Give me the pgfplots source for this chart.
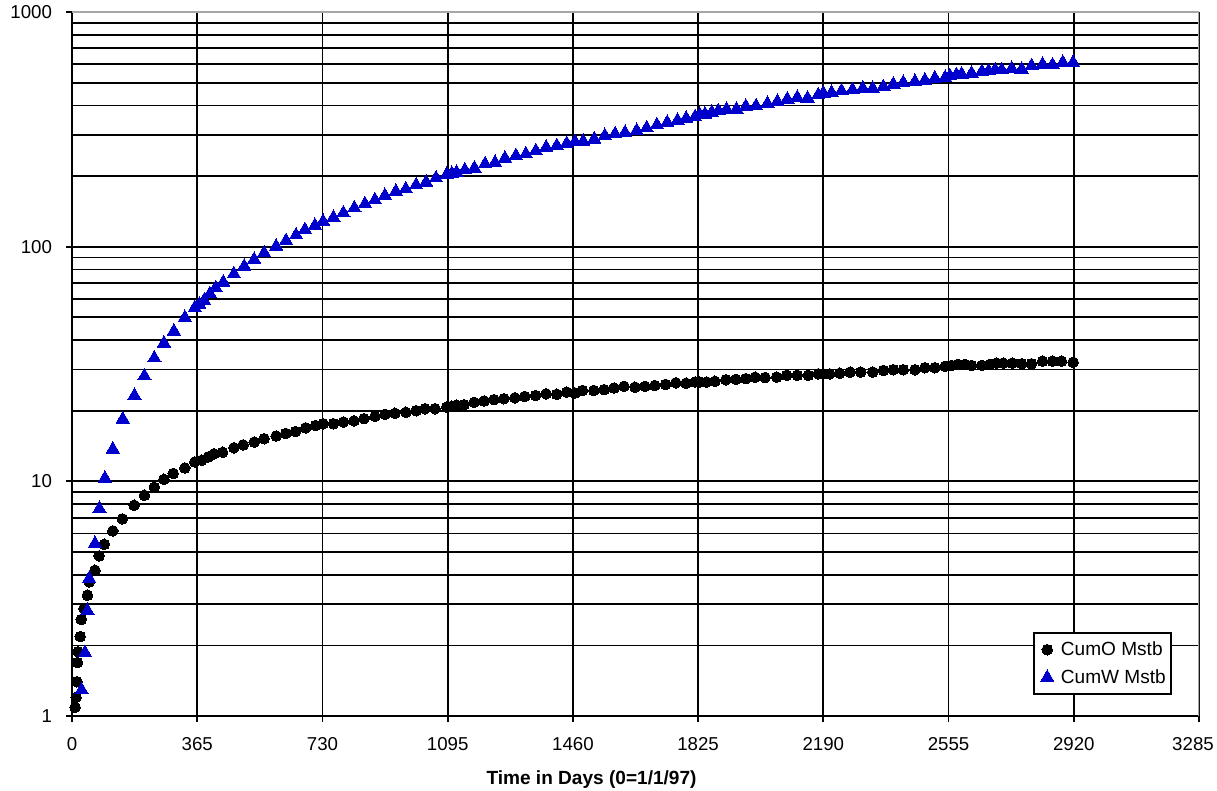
\documentclass[border=0pt]{standalone}
\usepackage{pgfplots}
\pgfplotsset{compat=1.18}
\usepackage{fontspec}
\setmainfont{Liberation Sans}
\definecolor{cumw}{RGB}{0,0,204}

\pgfplotstableread{
day cumo
6 0.92
9 1.09
12 1.2
14 1.4
16 1.69
18 1.88
24 2.18
27 2.58
35 2.87
45 3.27
50 3.73
67 4.18
79 4.81
94 5.39
119 6.15
147 6.92
181 7.91
211 8.72
240 9.43
268 10.2
295 10.8
329 11.4
358 12.1
378 12.3
397 12.7
414 13.1
439 13.3
472 13.9
499 14.3
531 14.7
560 15.2
595 15.6
623 16.0
651 16.3
681 16.9
710 17.3
732 17.6
762 17.6
791 17.9
822 18.1
851 18.5
883 18.9
912 19.3
941 19.5
973 19.7
1003 20.0
1029 20.4
1058 20.4
1092 20.7
1107 20.9
1121 21.1
1143 21.2
1172 21.7
1201 22.0
1230 22.3
1259 22.5
1291 22.7
1320 23.0
1351 23.2
1382 23.6
1413 23.5
1442 24.0
1466 23.8
1488 24.4
1521 24.4
1551 24.6
1580 25.0
1609 25.4
1641 25.2
1670 25.4
1699 25.6
1730 25.9
1760 26.3
1790 26.2
1816 26.5
1830 26.5
1850 26.5
1874 26.7
1906 27.1
1935 27.2
1964 27.4
1991 27.8
2020 27.7
2054 27.8
2083 28.3
2114 28.3
2146 28.3
2175 28.7
2190 28.7
2209 28.7
2238 28.9
2268 29.2
2299 29.2
2334 29.2
2365 29.7
2394 29.9
2423 29.9
2457 29.9
2486 30.5
2515 30.5
2545 30.9
2564 31.2
2583 31.5
2603 31.5
2622 31.2
2652 31.2
2676 31.5
2695 31.9
2714 31.9
2741 31.9
2768 31.7
2797 31.7
2829 32.5
2858 32.5
2884 32.5
2918 32.2
}\cumo

\pgfplotstableread{
day cumw
22 0.92
28 1.29
38 1.86
45 2.81
50 3.85
67 5.43
80 7.65
96 10.3
119 13.7
148 18.4
182 23.2
211 28.1
240 33.5
268 38.8
297 43.6
329 49.8
358 54.9
371 56.7
385 58.9
402 62.9
419 66.7
441 70.5
472 76.5
502 82.4
531 88.1
560 94.0
595 100.3
624 106
653 112
679 118
708 123
732 128
762 133
791 139
823 146
854 152
883 158
912 165
944 172
973 176
1003 183
1032 188
1061 196
1092 203
1107 205
1121 207
1145 212
1173 216
1204 225
1233 228
1262 238
1294 244
1323 248
1352 256
1382 265
1413 269
1442 275
1466 280
1490 281
1522 287
1553 297
1583 302
1612 306
1646 312
1675 320
1705 330
1735 338
1765 345
1790 352
1816 357
1830 365
1845 367
1865 373
1884 379
1908 385
1937 385
1964 396
1994 398
2027 407
2056 415
2085 425
2114 432
2144 429
2175 443
2190 451
2214 453
2243 461
2275 466
2305 473
2334 472
2365 480
2394 492
2423 500
2457 505
2486 512
2515 522
2545 525
2559 534
2578 540
2593 543
2622 548
2652 557
2672 561
2691 567
2710 567
2739 574
2768 570
2797 589
2829 598
2858 594
2888 609
2918 609
}\cumw

\begin{document}
\begin{tikzpicture}[font=\fontsize{14}{17}\selectfont]
  \begin{axis}[
    scale only axis,
    width=845.25pt, height=528pt,
    xmin=0, xmax=3285,
    ymode=log, ymin=1, ymax=1000,
    log basis y=10,
    xtick={0,365,...,2920},
    xticklabels={0,365,730,1095,1460,1825,2190,2555,2920},
    extra x ticks={3285},
    extra x tick labels={3285},
    extra x tick style={xticklabel style={xshift=-4.5pt}},
    ytick={1,10,100,1000},
    yticklabels={1,10,100,1000},
    minor ytick={2,3,4,5,6,7,8,9,20,30,40,50,60,70,80,90,200,300,400,500,600,700,800,900},
    xmajorgrids, ymajorgrids, yminorgrids,
    major grid style={black, line width=1.3pt},
    minor grid style={black, line width=1.3pt},
    axis x line*=bottom, axis y line*=left,
    axis line style={black, line width=1.4pt, -},
    tick align=outside,
    major tick length=4.5pt,
    minor tick length=0pt,
    tick style={black, line width=1.3pt},
    xticklabel style={yshift=-8pt},
    yticklabel style={xshift=-7pt},
    xlabel={\textbf{Time in Days (0=1/1/97)}},
    xlabel style={at={(axis description cs:0.461,0)}, anchor=center, yshift=-48pt,
      font=\fontsize{14.3}{17}\selectfont},
    legend style={at={(0.976,0.030)}, anchor=south east, draw=black, line width=1.2pt,
      fill=white, inner xsep=2pt, inner ysep=2pt, row sep=0pt,
      font=\fontsize{14.3}{17}\selectfont,
      nodes={inner xsep=2pt, inner ysep=4.5pt}},
    legend cell align=left,
    legend image code/.code={%
      \path (0cm,0cm) (0.52cm,0cm);
      \draw[#1] plot coordinates {(0.25cm,0cm)};},
  ]
    \addplot[only marks, mark=*, mark size=4pt, black, mark options={line width=0pt}] table[x=day, y=cumo] {\cumo};
    \addlegendentry{CumO Mstb}
    \addplot[only marks, mark=triangle*, mark size=5.8pt, cumw, mark options={line width=0pt}] table[x=day, y=cumw] {\cumw};
    \addlegendentry{CumW Mstb}
    \draw[gray!70, line width=1.3pt] (rel axis cs:0,1) -- (rel axis cs:1,1) -- (rel axis cs:1,0);
  \end{axis}
  \pgfresetboundingbox
  \path[use as bounding box] ([xshift=-54pt,yshift=-55.5pt]current axis.south west)
    rectangle ([xshift=13.5pt,yshift=9pt]current axis.north east);
\end{tikzpicture}
\end{document}
